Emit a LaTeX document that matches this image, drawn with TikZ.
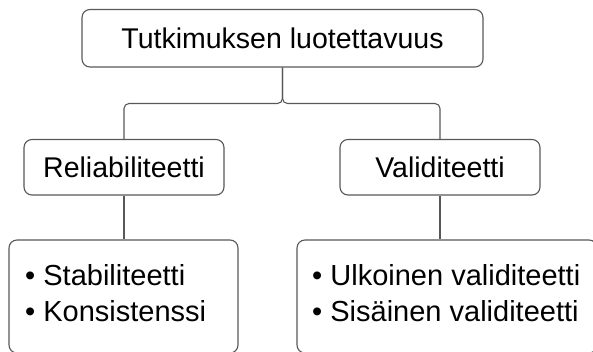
\documentclass[tikz,border=0pt]{standalone}
\usepackage{fontspec}
\setmainfont{Liberation Sans}
\definecolor{edge}{RGB}{88,88,88}
\begin{document}
\begin{tikzpicture}[x=1pt,y=-1pt,
  box/.style={draw=edge, line width=1.1pt, rounded corners=8pt, fill=white, inner sep=0pt,
    font=\fontsize{28.5}{32}\selectfont},
  conn/.style={draw=edge, line width=1.1pt, rounded corners=5pt},
  item/.style={inner sep=0pt, anchor=base west, font=\fontsize{29}{32}\selectfont}]
\useasboundingbox (0,0) rectangle (593,351);
\clip (0,0) rectangle (593,351);
\node[box, minimum width=401pt, minimum height=57.5pt] (top) at (282.5,38.25) {Tutkimuksen luotettavuus};
\node[box, minimum width=200pt, minimum height=55.5pt] (rel) at (124,167.25) {Reliabiliteetti};
\node[box, minimum width=200pt, minimum height=55.5pt] (val) at (440,167.25) {Validiteetti};
\node[box, minimum width=229pt, minimum height=113pt] (bl) at (123.5,296.5) {};
\node[box, minimum width=300pt, minimum height=113pt] (br) at (447,296.5) {};
\coordinate (j) at (282.5,103.5);
\draw[conn] (top.south) -- (j) -| (rel.north);
\draw[conn] (top.south) -- (j) -| (val.north);
\draw[conn] (rel.south) -- (rel.south |- bl.north);
\draw[conn] (val.south) -- (val.south |- br.north);
\node[item] (b1) at (25,285) {• Stabiliteetti};
\node[item] (b2) at (25,321) {• Konsistenssi};
\node[item] (b3) at (312,285) {• Ulkoinen validiteetti};
\node[item] (b4) at (312,321) {• Sisäinen validiteetti};
\end{tikzpicture}
\end{document}
